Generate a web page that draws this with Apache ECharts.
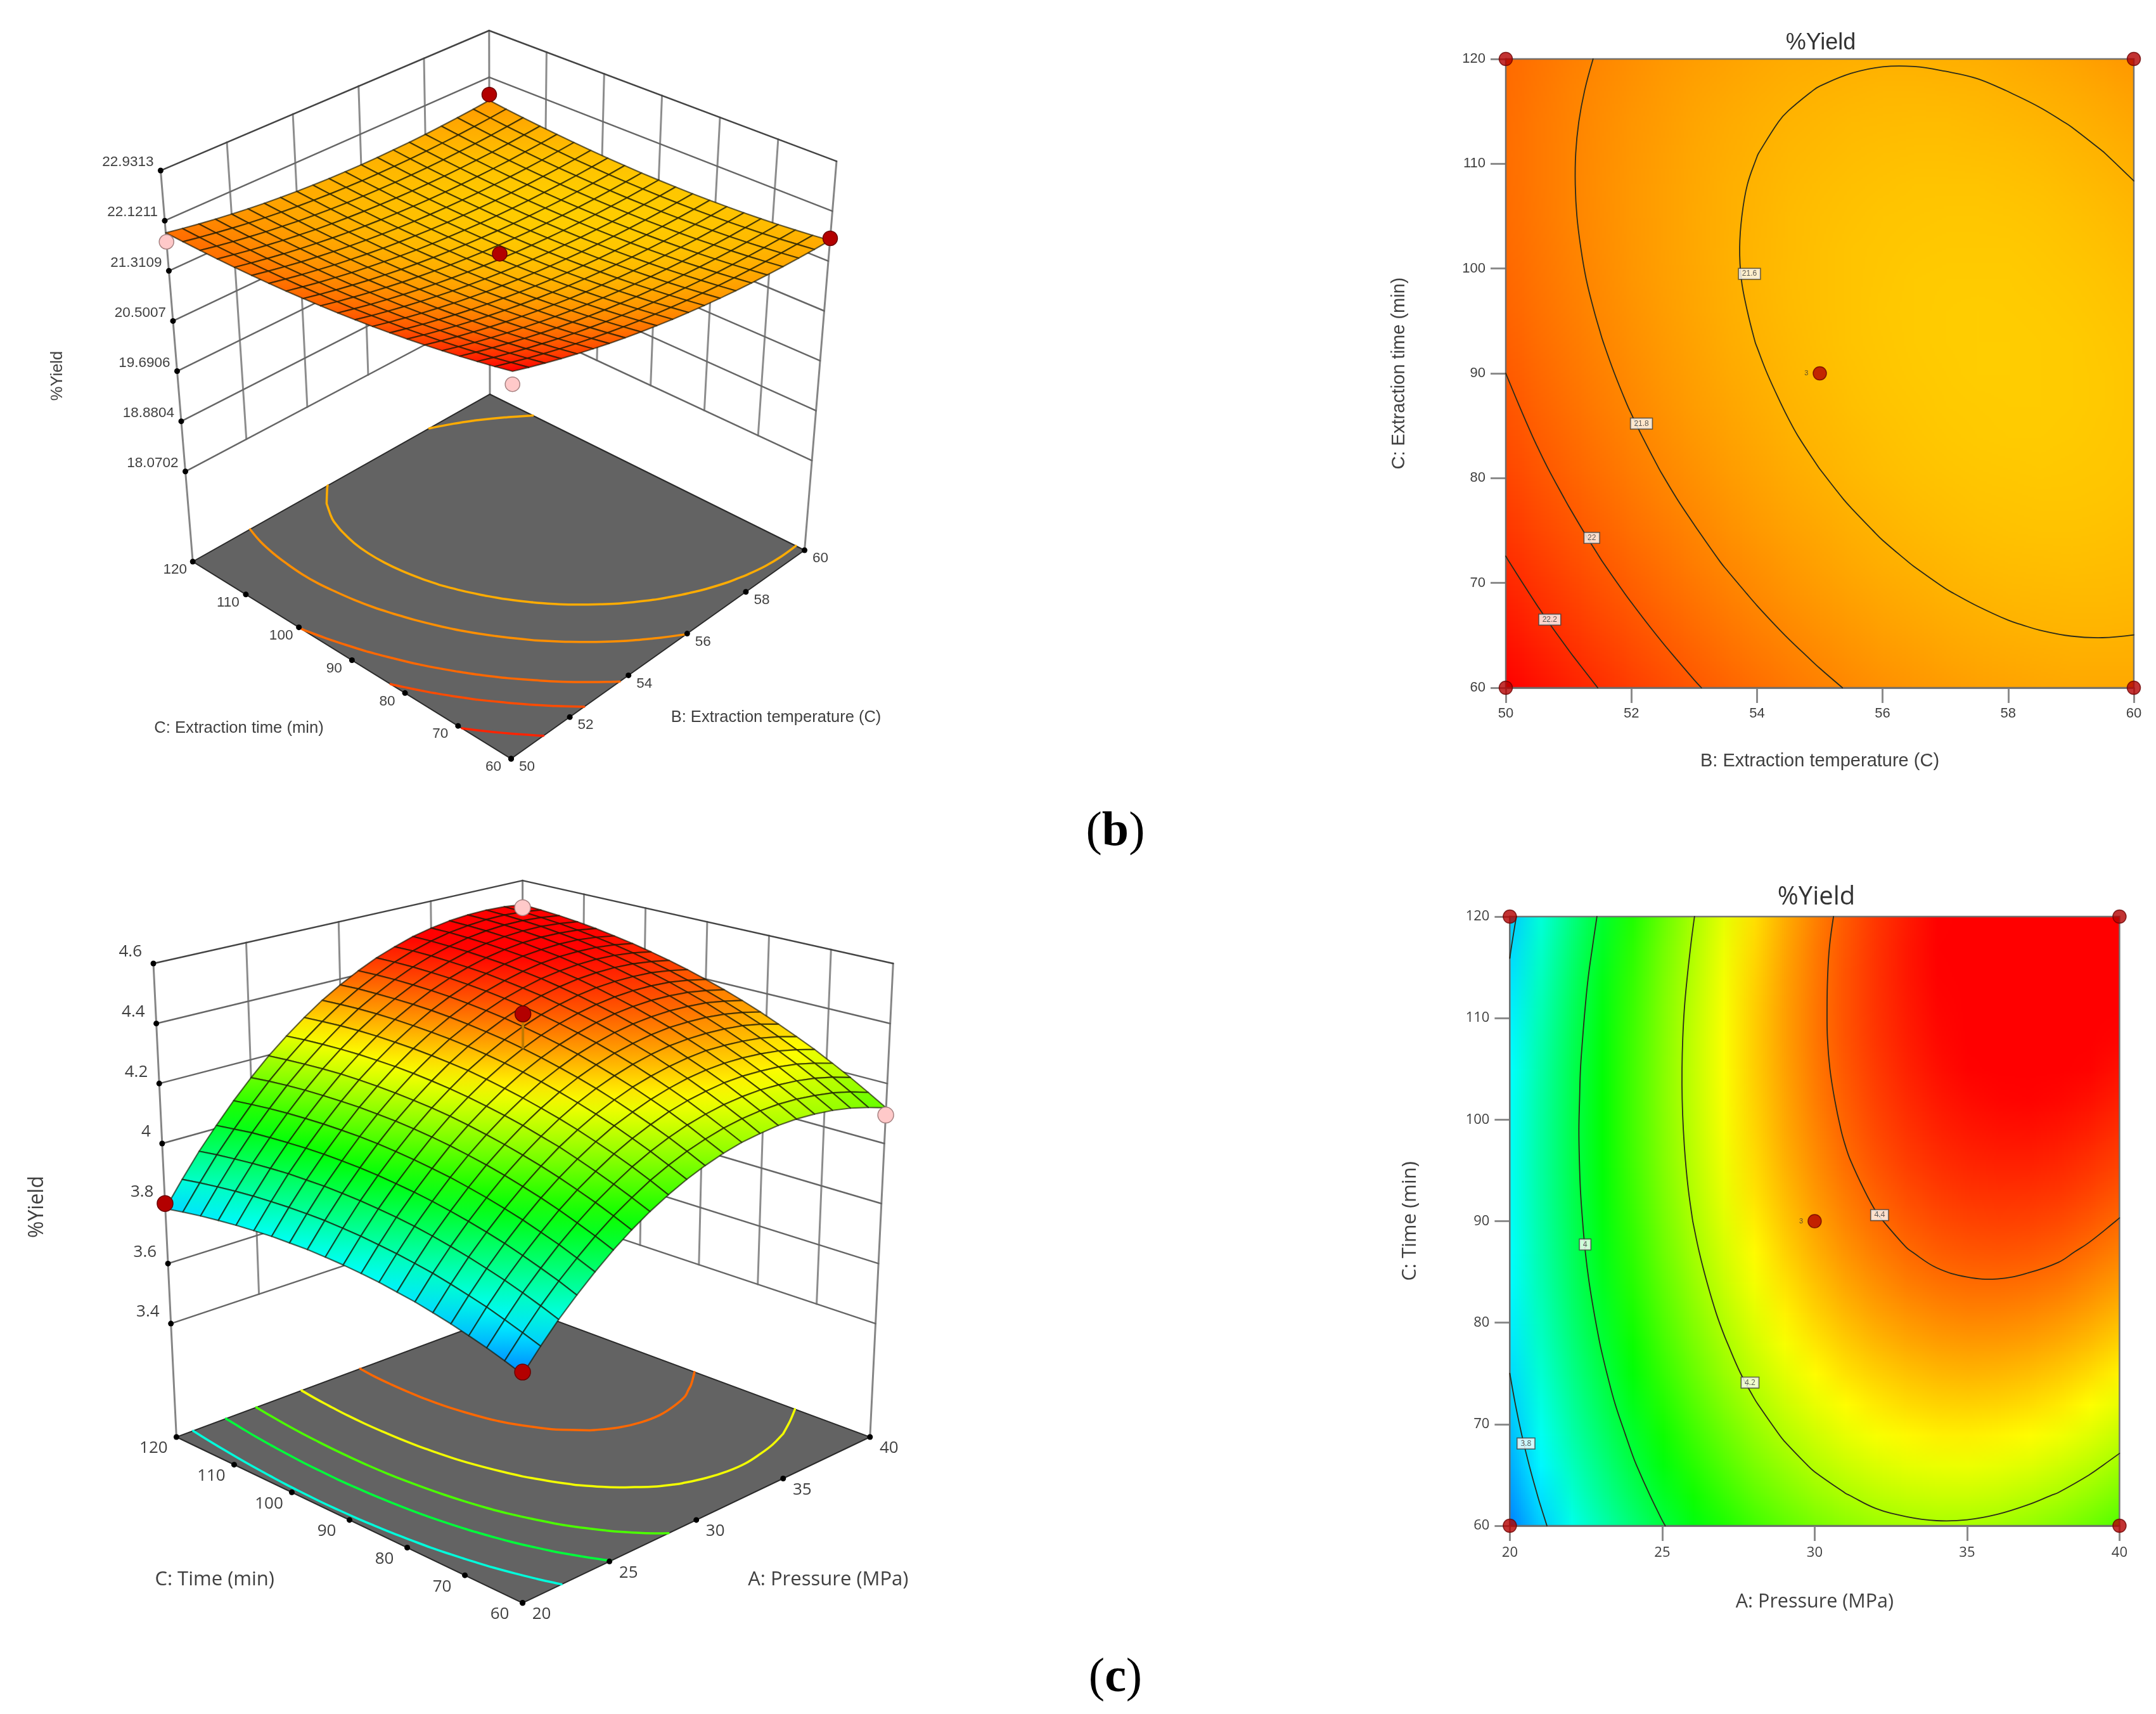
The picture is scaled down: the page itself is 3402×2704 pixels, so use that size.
<!DOCTYPE html>
<html>
<head>
<meta charset="utf-8">
<style>html,body{margin:0;background:#fff}#main{width:3402px;height:2704px}</style>
<script src="https://cdn.jsdelivr.net/npm/echarts@6/dist/echarts.min.js"></script>
</head>
<body>
<div id="main"></div>
<script>
// axis values
const tempB = [50,50.5,51,51.5,52,52.5,53,53.5,54,54.5,55,55.5,56,56.5,57,57.5,58,58.5,59,59.5,60];
const pressureA = [20,21,22,23,24,25,26,27,28,29,30,31,32,33,34,35,36,37,38,39,40];
const timeC = [60,63,66,69,72,75,78,81,84,87,90,93,96,99,102,105,108,111,114,117,120];
const tempTicks = [50,52,54,56,58,60];
const pressureTicks = [20,25,30,35,40];
const timeTicks = [60,70,80,90,100,110,120];
const zTicksB = [18.0702,18.8804,19.6906,20.5007,21.3109,22.1211,22.9313];
const zLabelsB = ['18.0702','18.8804','19.6906','20.5007','21.3109','22.1211','22.9313'];
const zTicksC = [3.4,3.6,3.8,4,4.2,4.4,4.6];
const zLabelsC = ['3.4','3.6','3.8','4','4.2','4.4','4.6'];

// %Yield, one row per timeC, one column per tempB
const yieldB = [
[22.414,22.337,22.264,22.195,22.130,22.069,22.012,21.960,21.911,21.867,21.826,21.790,21.758,21.729,21.705,21.685,21.669,21.657,21.650,21.646,21.646],
[22.357,22.282,22.210,22.143,22.079,22.020,21.964,21.913,21.866,21.823,21.784,21.749,21.718,21.691,21.668,21.650,21.635,21.625,21.618,21.616,21.617],
[22.304,22.229,22.160,22.093,22.032,21.973,21.919,21.870,21.824,21.782,21.744,21.710,21.681,21.656,21.635,21.617,21.604,21.595,21.590,21.589,21.592],
[22.254,22.182,22.113,22.048,21.987,21.931,21.878,21.830,21.785,21.745,21.709,21.677,21.649,21.624,21.604,21.589,21.577,21.569,21.565,21.566,21.570],
[22.208,22.136,22.068,22.005,21.946,21.891,21.840,21.792,21.750,21.711,21.676,21.645,21.618,21.596,21.578,21.563,21.552,21.547,21.544,21.546,21.552],
[22.165,22.094,22.028,21.967,21.908,21.855,21.806,21.759,21.718,21.680,21.647,21.618,21.592,21.571,21.554,21.541,21.532,21.527,21.526,21.530,21.537],
[22.125,22.056,21.992,21.931,21.875,21.822,21.774,21.730,21.690,21.653,21.621,21.593,21.570,21.550,21.534,21.523,21.515,21.511,21.512,21.516,21.525],
[22.089,22.021,21.958,21.899,21.844,21.793,21.746,21.704,21.664,21.630,21.599,21.572,21.550,21.531,21.517,21.507,21.501,21.499,21.501,21.507,21.517],
[22.056,21.990,21.928,21.870,21.817,21.767,21.722,21.680,21.643,21.609,21.580,21.555,21.534,21.517,21.504,21.495,21.491,21.490,21.493,21.501,21.512],
[22.027,21.962,21.902,21.845,21.793,21.745,21.700,21.660,21.625,21.593,21.565,21.541,21.521,21.506,21.494,21.487,21.483,21.485,21.489,21.498,21.511],
[22.000,21.937,21.878,21.823,21.773,21.726,21.683,21.644,21.610,21.579,21.553,21.531,21.512,21.498,21.488,21.482,21.480,21.483,21.488,21.499,21.513],
[21.978,21.916,21.859,21.805,21.756,21.710,21.669,21.631,21.598,21.569,21.544,21.523,21.506,21.494,21.485,21.480,21.480,21.483,21.491,21.502,21.518],
[21.958,21.898,21.842,21.790,21.741,21.698,21.657,21.622,21.590,21.563,21.539,21.519,21.504,21.492,21.485,21.482,21.483,21.488,21.497,21.510,21.527],
[21.942,21.883,21.828,21.778,21.731,21.689,21.651,21.615,21.585,21.559,21.537,21.519,21.505,21.495,21.489,21.487,21.489,21.496,21.506,21.521,21.540],
[21.929,21.873,21.819,21.770,21.724,21.684,21.646,21.613,21.584,21.560,21.539,21.522,21.510,21.501,21.496,21.496,21.500,21.507,21.519,21.535,21.555],
[21.920,21.865,21.813,21.764,21.721,21.682,21.645,21.614,21.587,21.563,21.544,21.529,21.517,21.510,21.507,21.508,21.513,21.522,21.535,21.553,21.574],
[21.915,21.860,21.810,21.763,21.721,21.683,21.648,21.618,21.592,21.570,21.552,21.538,21.528,21.522,21.520,21.523,21.530,21.540,21.555,21.574,21.597],
[21.912,21.860,21.810,21.766,21.724,21.688,21.654,21.626,21.601,21.581,21.564,21.551,21.543,21.538,21.538,21.542,21.550,21.561,21.578,21.598,21.622],
[21.914,21.862,21.814,21.771,21.731,21.696,21.663,21.636,21.613,21.594,21.579,21.568,21.561,21.558,21.559,21.564,21.574,21.587,21.604,21.626,21.652],
[21.918,21.868,21.822,21.779,21.741,21.707,21.677,21.651,21.629,21.611,21.597,21.587,21.582,21.581,21.583,21.589,21.601,21.615,21.634,21.657,21.684],
[21.926,21.877,21.832,21.791,21.755,21.722,21.693,21.669,21.648,21.631,21.619,21.611,21.606,21.606,21.611,21.618,21.631,21.647,21.668,21.691,21.720]
];
// %Yield, one row per timeC, one column per pressureA
const yieldC = [
[3.723,3.787,3.847,3.900,3.950,3.996,4.037,4.073,4.104,4.131,4.153,4.171,4.184,4.191,4.195,4.194,4.188,4.178,4.163,4.143,4.119],
[3.742,3.806,3.867,3.922,3.972,4.019,4.061,4.097,4.130,4.157,4.180,4.198,4.212,4.221,4.225,4.225,4.220,4.210,4.197,4.178,4.154],
[3.759,3.824,3.886,3.941,3.993,4.040,4.083,4.120,4.154,4.182,4.206,4.225,4.239,4.249,4.254,4.255,4.250,4.242,4.229,4.211,4.188],
[3.774,3.841,3.903,3.959,4.011,4.060,4.103,4.141,4.176,4.205,4.229,4.250,4.265,4.275,4.282,4.283,4.279,4.272,4.260,4.242,4.220],
[3.788,3.855,3.918,3.976,4.029,4.078,4.122,4.161,4.196,4.227,4.251,4.272,4.288,4.300,4.307,4.309,4.306,4.299,4.288,4.271,4.251],
[3.800,3.868,3.932,3.990,4.044,4.094,4.139,4.180,4.215,4.246,4.272,4.294,4.310,4.322,4.330,4.334,4.331,4.325,4.315,4.299,4.279],
[3.811,3.880,3.944,4.003,4.058,4.109,4.154,4.195,4.232,4.264,4.291,4.313,4.331,4.344,4.353,4.356,4.355,4.350,4.341,4.326,4.306],
[3.819,3.889,3.955,4.014,4.070,4.122,4.168,4.210,4.247,4.280,4.308,4.331,4.350,4.363,4.373,4.378,4.377,4.373,4.364,4.350,4.332],
[3.827,3.897,3.964,4.024,4.081,4.133,4.180,4.223,4.261,4.295,4.323,4.348,4.367,4.382,4.392,4.397,4.398,4.394,4.387,4.373,4.356],
[3.832,3.903,3.971,4.032,4.089,4.143,4.191,4.234,4.273,4.308,4.337,4.362,4.382,4.398,4.409,4.415,4.417,4.414,4.407,4.394,4.378],
[3.836,3.908,3.976,4.038,4.096,4.151,4.200,4.244,4.284,4.319,4.349,4.375,4.396,4.412,4.424,4.431,4.434,4.432,4.426,4.414,4.398],
[3.838,3.911,3.980,4.043,4.102,4.157,4.207,4.252,4.294,4.329,4.360,4.386,4.408,4.425,4.438,4.446,4.449,4.448,4.443,4.432,4.417],
[3.839,3.913,3.982,4.046,4.106,4.162,4.212,4.258,4.300,4.337,4.368,4.396,4.419,4.437,4.450,4.459,4.463,4.463,4.458,4.448,4.434],
[3.837,3.912,3.983,4.047,4.108,4.164,4.216,4.263,4.305,4.343,4.375,4.404,4.428,4.446,4.461,4.470,4.475,4.476,4.472,4.463,4.449],
[3.835,3.910,3.981,4.047,4.108,4.166,4.218,4.266,4.309,4.347,4.381,4.410,4.435,4.454,4.469,4.480,4.486,4.487,4.484,4.476,4.463],
[3.830,3.906,3.979,4.045,4.107,4.165,4.219,4.267,4.311,4.350,4.385,4.415,4.440,4.461,4.477,4.488,4.494,4.497,4.495,4.487,4.475],
[3.824,3.901,3.974,4.041,4.104,4.163,4.218,4.267,4.312,4.352,4.387,4.418,4.444,4.465,4.482,4.494,4.502,4.505,4.503,4.497,4.486],
[3.816,3.894,3.968,4.036,4.100,4.160,4.215,4.265,4.311,4.352,4.387,4.419,4.446,4.468,4.486,4.499,4.507,4.511,4.511,4.505,4.495],
[3.807,3.885,3.960,4.030,4.094,4.155,4.210,4.261,4.308,4.350,4.386,4.419,4.447,4.470,4.488,4.502,4.511,4.516,4.516,4.511,4.502],
[3.796,3.875,3.951,4.020,4.086,4.148,4.204,4.256,4.303,4.346,4.384,4.417,4.446,4.470,4.489,4.504,4.513,4.519,4.520,4.516,4.507],
[3.783,3.863,3.940,4.010,4.077,4.139,4.197,4.249,4.297,4.341,4.379,4.413,4.443,4.467,4.488,4.503,4.514,4.520,4.522,4.519,4.511]
];

// contour levels
const flatLevelsB = [21.6,21.8,22,22.2];
const flatLevelsC = [3.8,4,4.2,4.4];
const floorLevelsB = [21.63,21.76,21.94,22.07,22.25];
const floorLevelsC = [3.86,4,4.115,4.26,4.4];

// contour value boxes [x, time, text]
const contourTagsB = [[53.88,99.5,'21.6'],[52.16,85.2,'21.8'],[51.37,74.3,'22'],[50.7,66.5,'22.2']];
const contourTagsC = [[20.53,68.1,'3.8'],[22.47,87.7,'4'],[27.88,74.1,'4.2'],[32.13,90.6,'4.4']];

// design points [x, time, %yield]
const designB = [[50,60,22.22],[50,120,21.78],[60,60,21.68],[60,120,21.82],[55,90,21.64]];
const designC = [[20,60,3.73],[20,120,3.8],[40,60,4.095],[40,120,4.5],[30,90,4.465]];
const flatPointsB = [[50,60],[50,120],[60,60],[60,120],[55,90]];
const flatPointsC = [[20,60],[20,120],[40,60],[40,120],[30,90]];

const SANS = '"Liberation Sans", Arial, sans-serif';
const OPEN = '"Open Sans", sans-serif';
const TXT = '#404040';

// colour ramps, stops evenly spaced between lo and hi
function ramp(lo, hi, stops) {
  return function (z) {
    let t = (z - lo) / (hi - lo) * (stops.length - 1);
    t = Math.max(0, Math.min(stops.length - 1.0001, t));
    const k = Math.floor(t), f = t - k;
    return [0,1,2].map(c => Math.round(stops[k][c] + (stops[k+1][c] - stops[k][c]) * f));
  };
}
const rampB = ramp(21.48, 22.41, [[255,205,0],[255,0,0]]);
const rampC = ramp(3.61, 4.49, [[0,0,255],[0,255,255],[0,255,0],[255,255,0],[255,0,0]]);
const css = c => 'rgb(' + c.join(',') + ')';

// marching squares over a table, gives line pieces in data units
function isoSegments(table, xs, ys, level) {
  const out = [];
  for (let j = 0; j < ys.length - 1; j++) {
    for (let i = 0; i < xs.length - 1; i++) {
      const c = [[xs[i],ys[j],table[j][i]],[xs[i+1],ys[j],table[j][i+1]],[xs[i+1],ys[j+1],table[j+1][i+1]],[xs[i],ys[j+1],table[j+1][i]]];
      const hits = [];
      for (let e = 0; e < 4; e++) {
        const a = c[e], b = c[(e+1)%4];
        if ((a[2] < level) !== (b[2] < level)) {
          const f = (level - a[2]) / (b[2] - a[2]);
          hits.push([a[0] + (b[0]-a[0])*f, a[1] + (b[1]-a[1])*f]);
        }
      }
      if (hits.length >= 2) out.push([hits[0],hits[1]]);
      if (hits.length === 4) out.push([hits[2],hits[3]]);
    }
  }
  return out;
}

// joins the pieces into running lines so they can be drawn smooth
function isoLines(table, xs, ys, level) {
  const left = isoSegments(table, xs, ys, level);
  const same = (a, b) => Math.abs(a[0]-b[0]) < 1e-6 && Math.abs(a[1]-b[1]) < 1e-6;
  const lines = [];
  while (left.length) {
    const line = left.pop().slice();
    let grew = true;
    while (grew) {
      grew = false;
      for (let k = 0; k < left.length; k++) {
        const s = left[k];
        const end = line[line.length-1], start = line[0];
        if (same(s[0],end)) line.push(s[1]);
        else if (same(s[1],end)) line.push(s[0]);
        else if (same(s[0],start)) line.unshift(s[1]);
        else if (same(s[1],start)) line.unshift(s[0]);
        else continue;
        left.splice(k,1);
        grew = true;
        break;
      }
    }
    lines.push(line);
  }
  return lines;
}

// 3D panel: floor edges are evenly ticked so the floor is bilinear, heights scale from the vanishing point
function makeProjection(p) {
  return function (x, y, z) {
    const s = (x - p.xRange[0])/(p.xRange[1]-p.xRange[0]);
    const t = (y - p.yRange[0])/(p.yRange[1]-p.yRange[0]);
    const q = (z - p.zFloor)/(p.zTop - p.zFloor);
    const mix = (a,b,c,d) => a*(1-s)*(1-t) + b*s*(1-t) + c*s*t + d*(1-s)*t;
    const fx = mix(p.front[0],p.right[0],p.back[0],p.left[0]);
    const fy = mix(p.front[1],p.right[1],p.back[1],p.left[1]);
    const r = mix(p.rise[0],p.rise[1],p.rise[2],p.rise[3]);
    const k = 1 + q*(r-1);
    return [p.vp[0] + (fx-p.vp[0])*k, p.vp[1] + (fy-p.vp[1])*k];
  };
}

const panelB = {
  front:[806.5,1197], right:[1269.5,868], back:[773,622], left:[304.2,886], vp:[786,6745],
  rise:[1.12,1.1044,1.0937,1.1053],
  xRange:[50,60], yRange:[60,120], zFloor:16.614, zTop:22.9313,
  xs:tempB, ys:timeC, table:yieldB, ramp:rampB,
  xTicks:tempTicks, yTicks:timeTicks, zTicks:zTicksB, zLabels:zLabelsB,
  floorLevels:floorLevelsB, design:designB, below:[0,1], above:[2,3,4], stick:false,
  font:SANS, fontSize:22.5, xOff:[25,13], yOff:[-28,13], zOff:[-11,-13], dot:23
};
const panelC = {
  front:[824.6,2528.8], right:[1372.8,2267], back:[824.6,2064], left:[278.4,2267], vp:[824.6,13483],
  rise:[1.0741,1.0666,1.0591,1.0666],
  xRange:[20,40], yRange:[60,120], zFloor:3.022, zTop:4.6,
  xs:pressureA, ys:timeC, table:yieldC, ramp:rampC,
  xTicks:pressureTicks, yTicks:timeTicks, zTicks:zTicksC, zLabels:zLabelsC,
  floorLevels:floorLevelsC, design:designC, below:[2,3], above:[0,1,4], stick:true,
  font:OPEN, fontSize:26, xOff:[30,18], yOff:[-36,18], zOff:[-18,-18], dot:25
};

function frameSeries(p) {
  const pr = makeProjection(p);
  const xa = p.xRange, ya = p.yRange;
  return {
    type:'custom', xAxisIndex:0, yAxisIndex:0, silent:true, clip:false, data:[[0,0]],
    renderItem: function (params, api) {
      const P = (x,y,z) => api.coord(pr(x,y,z));
      const kids = [];
      const line = (a,b,color,width) => kids.push({type:'line',shape:{x1:a[0],y1:a[1],x2:b[0],y2:b[1]},style:{stroke:color,lineWidth:width,lineCap:'round'}});
      const zLow = p.zTicks[0], zHigh = p.zTicks[p.zTicks.length-1];
      // walls
      p.xTicks.slice(1,-1).forEach(x => line(P(x,ya[1],zLow),P(x,ya[1],zHigh),'#8c8c8c',3));
      p.yTicks.slice(1,-1).forEach(y => line(P(xa[1],y,zLow),P(xa[1],y,zHigh),'#8c8c8c',3));
      [[xa[0],ya[1]],[xa[1],ya[1]],[xa[1],ya[0]]].forEach(c => line(P(c[0],c[1],p.zFloor),P(c[0],c[1],zHigh),'#858585',3));
      p.zTicks.forEach((z,n) => {
        const col = n === p.zTicks.length-1 ? '#444' : '#666';
        line(P(xa[0],ya[1],z),P(xa[1],ya[1],z),col,2.5);
        line(P(xa[1],ya[1],z),P(xa[1],ya[0],z),col,2.5);
      });
      // floor
      const corners = [[xa[0],ya[0]],[xa[1],ya[0]],[xa[1],ya[1]],[xa[0],ya[1]]].map(c => P(c[0],c[1],p.zFloor));
      kids.push({type:'polygon',shape:{points:corners},style:{fill:'#636363',stroke:'#2a2a2a',lineWidth:2}});
      p.floorLevels.forEach(lv => {
        const col = css(p.ramp(lv));
        isoLines(p.table,p.xs,p.ys,lv).forEach(l => kids.push({type:'polyline',
          shape:{points:l.map(q => P(q[0],q[1],p.zFloor)),smooth:0.4},style:{fill:'none',stroke:col,lineWidth:3.5,lineCap:'round'}}));
      });
      // ticks and tick labels
      const dot = c => kids.push({type:'circle',shape:{cx:c[0],cy:c[1],r:4.5},style:{fill:'#000'}});
      const label = (c,off,text,align) => kids.push({type:'text',style:{x:c[0]+off[0],y:c[1]+off[1],text:text,fill:TXT,font:p.fontSize+'px '+p.font,align:align,verticalAlign:'middle'}});
      p.xTicks.forEach(x => { const c = P(x,ya[0],p.zFloor); dot(c); label(c,p.xOff,String(x),'center'); });
      p.yTicks.forEach(y => { const c = P(xa[0],y,p.zFloor); dot(c); label(c,p.yOff,String(y),'center'); });
      p.zTicks.forEach((z,n) => { const c = P(xa[0],ya[1],z); dot(c); label(c,p.zOff,p.zLabels[n],'right'); });
      return {type:'group',children:kids};
    }
  };
}

function surfaceSeries(p) {
  const pr = makeProjection(p);
  const cells = [];
  // far corner first so nearer cells paint over
  for (let sum = (p.xs.length-2)+(p.ys.length-2); sum >= 0; sum--) {
    for (let j = p.ys.length-2; j >= 0; j--) {
      const i = sum - j;
      if (i >= 0 && i < p.xs.length-1) cells.push([i,j]);
    }
  }
  return {
    type:'custom', xAxisIndex:0, yAxisIndex:0, silent:true, clip:false, data:cells,
    renderItem: function (params, api) {
      const i = api.value(0), j = api.value(1), T = p.table, X = p.xs, Y = p.ys;
      const a = api.coord(pr(X[i],Y[j],T[j][i])), b = api.coord(pr(X[i+1],Y[j],T[j][i+1]));
      const c = api.coord(pr(X[i+1],Y[j+1],T[j+1][i+1])), d = api.coord(pr(X[i],Y[j+1],T[j+1][i]));
      const fill = new echarts.graphic.LinearGradient(a[0],a[1],c[0],c[1],[
        {offset:0,color:css(p.ramp(T[j][i]))},{offset:1,color:css(p.ramp(T[j+1][i+1]))}],true);
      return {type:'polygon',shape:{points:[a,b,c,d]},style:{fill:fill,stroke:'rgba(20,20,0,0.65)',lineWidth:2.2,lineJoin:'round'}};
    }
  };
}

function designSeries(p, which, color, border) {
  const pr = makeProjection(p);
  return {
    type:'scatter', xAxisIndex:0, yAxisIndex:0, silent:true, symbolSize:p.dot,
    itemStyle:{color:color,borderColor:border,borderWidth:1.5,opacity:1},
    data:which.map(n => pr(p.design[n][0],p.design[n][1],p.design[n][2]))
  };
}

function stickSeries(p) {
  const pr = makeProjection(p);
  const d = p.design[4];
  return {
    type:'custom', xAxisIndex:0, yAxisIndex:0, silent:true, clip:false, data:[[0,0]],
    renderItem: function (params, api) {
      const a = api.coord(pr(d[0],d[1],d[2])), b = api.coord(pr(d[0],d[1],p.table[10][10]));
      return {type:'line',shape:{x1:a[0],y1:a[1],x2:b[0],y2:b[1]},style:{stroke:'#c07a00',lineWidth:4}};
    }
  };
}

// flat contour panel: colours in a small canvas, scaled up smooth by the custom series
function heatCanvas(table, colorOf) {
  const n = table.length, cv = document.createElement('canvas');
  cv.width = n; cv.height = n;
  const ctx = cv.getContext('2d'), img = ctx.createImageData(n,n);
  for (let j = 0; j < n; j++) {
    for (let i = 0; i < n; i++) {
      const c = colorOf(table[n-1-j][i]), o = (j*n+i)*4;
      img.data[o] = c[0]; img.data[o+1] = c[1]; img.data[o+2] = c[2]; img.data[o+3] = 255;
    }
  }
  ctx.putImageData(img,0,0);
  return cv;
}

function flatSeries(idx, xs, table, colorOf, levels, tags, points, font) {
  const cv = heatCanvas(table,colorOf);
  const xa = [xs[0],xs[xs.length-1]];
  const n = table.length - 1;
  return [{
    type:'custom', xAxisIndex:idx, yAxisIndex:idx, silent:true, clip:false,
    data:[[xa[0],120,xa[1],60]],
    renderItem: function (params, api) {
      const a = api.coord([api.value(0),api.value(1)]), b = api.coord([api.value(2),api.value(3)]);
      const w = b[0]-a[0], h = b[1]-a[1];
      return {type:'group',children:[
        {type:'image',style:{image:cv,x:a[0],y:a[1],width:w,height:h,sx:0.5,sy:0.5,sWidth:n,sHeight:n}},
        {type:'rect',shape:{x:a[0],y:a[1],width:w,height:h},style:{fill:'none',stroke:'rgba(105,105,105,0.9)',lineWidth:2.5}}
      ]};
    }
  },{
    type:'custom', xAxisIndex:idx, yAxisIndex:idx, silent:true, data:[[0,0]],
    renderItem: function (params, api) {
      const kids = [];
      levels.forEach(lv => isoLines(table,xs,timeC,lv).forEach(l => kids.push({type:'polyline',
        shape:{points:l.map(q => api.coord(q)),smooth:0.4},style:{fill:'none',stroke:'#2a2a1a',lineWidth:1.8,lineCap:'round'}})));
      return {type:'group',children:kids};
    }
  },{
    type:'scatter', xAxisIndex:idx, yAxisIndex:idx, silent:true, symbolSize:1, itemStyle:{color:'rgba(0,0,0,0)'},
    data:tags,
    label:{show:true,position:'inside',formatter:q => q.value[2],fontSize:12,fontFamily:font,color:'#333',backgroundColor:'#fff',borderColor:'#444',borderWidth:1.5,padding:[2,5]}
  },{
    type:'scatter', xAxisIndex:idx, yAxisIndex:idx, silent:true, symbolSize:21, clip:false,
    itemStyle:{color:'#b30000',borderColor:'#6b0000',borderWidth:1.5},
    data:points.map((q,k) => ({value:q,label:k === 4 ? {show:true,position:'left',distance:7,formatter:'3',fontSize:11,color:'#333'} : {show:false}}))
  }];
}

function flatAxis(idx, min, max, interval, name, font, size, labelSize, gap, margin) {
  return {
    type:'value', gridIndex:idx, min:min, max:max, interval:interval, name:name, nameLocation:'middle', nameGap:gap,
    nameTextStyle:{fontFamily:font,fontSize:size,color:TXT},
    axisLine:{show:true,onZero:false,lineStyle:{color:'#8c8c8c',width:3}},
    axisTick:{show:true,length:24,lineStyle:{color:'#8c8c8c',width:3}},
    axisLabel:{fontFamily:font,fontSize:labelSize,color:TXT,margin:margin,showMinLabel:true,showMaxLabel:true},
    splitLine:{show:false}
  };
}

function axisText(x, y, text, font, size, rot) {
  return {type:'text',x:x,y:y,rotation:rot || 0,silent:true,style:{text:text,fill:TXT,font:size+'px '+font,align:'center',verticalAlign:'middle'}};
}

function caption(letter, top) {
  const serif = '"Liberation Serif",serif';
  return {
    text:'{p|(}{b|' + letter + '}{p|)}', left:1755, top:top, textAlign:'center',
    textStyle:{fontWeight:'normal',rich:{p:{fontFamily:serif,fontSize:76,fontWeight:'normal',color:'#000'},b:{fontFamily:serif,fontSize:76,fontWeight:'bold',color:'#000'}}}
  };
}

const chart = echarts.init(document.getElementById('main'));
chart.setOption({
  animation:false,
  backgroundColor:'#fff',
  title:[
    {text:'%Yield',left:2868,top:45,textAlign:'center',textStyle:{fontFamily:SANS,fontSize:36,fontWeight:'normal',color:'#333'}},
    {text:'%Yield',left:2861,top:1391,textAlign:'center',textStyle:{fontFamily:OPEN,fontSize:40,fontWeight:'normal',color:'#333'}},
    caption('b',1270),
    caption('c',2605)
  ],
  grid:[
    {left:0,top:0,width:3402,height:2704},
    {left:2376,top:93,width:991,height:992},
    {left:2382.4,top:1446,width:962,height:961}
  ],
  xAxis:[
    {type:'value',gridIndex:0,min:0,max:3402,show:false},
    flatAxis(1,50,60,2,'B: Extraction temperature (C)',SANS,29,22,101,30),
    flatAxis(2,20,40,5,'A: Pressure (MPa)',OPEN,30.5,22,105,32)
  ],
  yAxis:[
    {type:'value',gridIndex:0,min:0,max:2704,inverse:true,show:false},
    flatAxis(1,60,120,10,'C: Extraction time (min)',SANS,29,22,154,32),
    flatAxis(2,60,120,10,'C: Time (min)',OPEN,31,22,142,32)
  ],
  graphic:[
    axisText(377,1149,'C: Extraction time (min)',SANS,25.6),
    axisText(1224.5,1131.6,'B: Extraction temperature (C)',SANS,25.5),
    axisText(91,593,'%Yield',SANS,25.5,Math.PI/2),
    axisText(338.7,2492.5,'C: Time (min)',OPEN,31),
    axisText(1306.8,2492.5,'A: Pressure (MPa)',OPEN,31),
    axisText(59.3,1904,'%Yield',OPEN,32,Math.PI/2)
  ],
  series:[
    frameSeries(panelB),
    designSeries(panelB,panelB.below,'#ffc9c9','#a58080'),
    surfaceSeries(panelB),
    designSeries(panelB,panelB.above,'#b30000','#6b0000'),
    frameSeries(panelC),
    designSeries(panelC,panelC.below,'#ffc9c9','#a58080'),
    surfaceSeries(panelC),
    stickSeries(panelC),
    designSeries(panelC,panelC.above,'#b30000','#6b0000')
  ].concat(
    flatSeries(1,tempB,yieldB,rampB,flatLevelsB,contourTagsB,flatPointsB,SANS),
    flatSeries(2,pressureA,yieldC,rampC,flatLevelsC,contourTagsC,flatPointsC,OPEN)
  )
});
</script>
</body>
</html>
